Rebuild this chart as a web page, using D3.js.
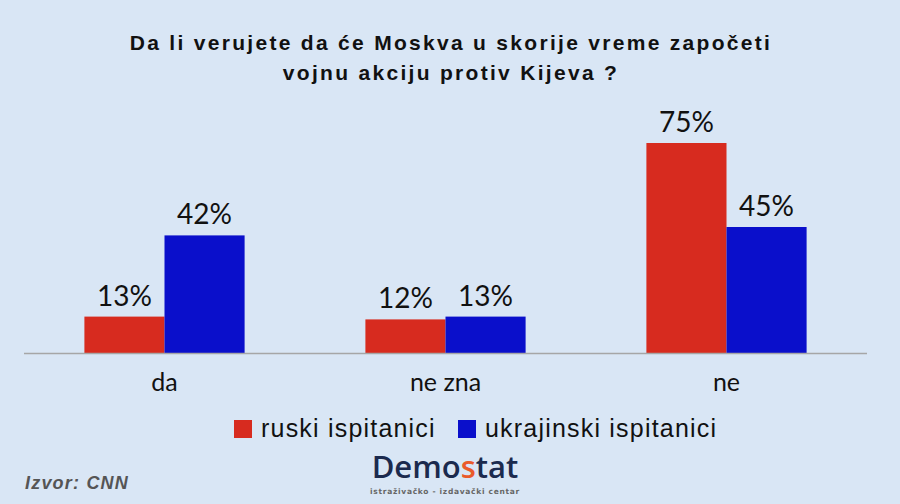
<!DOCTYPE html>
<html><head><meta charset="utf-8">
<script src="https://cdn.jsdelivr.net/npm/d3@7"></script>
<style>body{margin:0;background:#d9e6f5}svg{display:block}</style>
</head><body>
<script>
const categories = ["da", "ne zna", "ne"];
const seriesNames = ["ruski ispitanici", "ukrajinski ispitanici"];
const ruski = [13, 12, 75];
const ukrajinski = [42, 13, 45];
const titleLines = ["Da li verujete da će Moskva u skorije vreme započeti", "vojnu akciju protiv Kijeva ?"];
const colors = ["#d72b1f", "#0a0fcb"];

const W = 900, H = 504;
const svg = d3.select("body").append("svg").attr("width", W).attr("height", H);
svg.append("rect").attr("width", W).attr("height", H).attr("fill", "#d9e6f5");

const x0 = d3.scaleBand().domain(categories).range([24, 867]).paddingInner(0).paddingOuter(0);
const x1 = d3.scaleBand().domain([0, 1]).range([0, x0.bandwidth()]).paddingInner(0).paddingOuter(0.754);
const y = d3.scaleLinear().domain([0, 75]).range([353, 143]);

const series = [ruski, ukrajinski];
const g = svg.append("g");
categories.forEach((c, i) => {
  series.forEach((s, j) => {
    g.append("rect")
      .attr("x", x0(c) + x1(j))
      .attr("y", y(s[i]))
      .attr("width", x1.bandwidth())
      .attr("height", y(0) - y(s[i]))
      .attr("fill", colors[j]);
    g.append("text")
      .attr("x", x0(c) + x1(j) + x1.bandwidth() / 2)
      .attr("y", y(s[i]) - 11)
      .attr("text-anchor", "middle")
      .attr("font-family", "Lato, 'Open Sans', sans-serif")
      .attr("font-size", 28)
      .attr("fill", "#111")
      .text(s[i] + "%");
  });
});

svg.append("line").attr("x1", 24).attr("x2", 867).attr("y1", 353.5).attr("y2", 353.5)
  .attr("stroke", "#a6a6a6").attr("stroke-width", 1.5);

categories.forEach(c => {
  svg.append("text")
    .attr("x", x0(c) + x0.bandwidth() / 2)
    .attr("y", 391)
    .attr("text-anchor", "middle")
    .attr("font-family", "Lato, 'Open Sans', sans-serif")
    .attr("font-size", 25)
    .attr("fill", "#111")
    .text(c);
});

titleLines.forEach((t, i) => {
  svg.append("text")
    .attr("x", 451)
    .attr("y", 50 + i * 30)
    .attr("text-anchor", "middle")
    .attr("font-family", "'Liberation Sans', Arial, sans-serif")
    .attr("font-weight", "bold")
    .attr("font-size", 21)
    .attr("letter-spacing", 2.3)
    .attr("fill", "#111")
    .text(t);
});

// legend
const legX = [234, 458];
seriesNames.forEach((n, j) => {
  svg.append("rect").attr("x", legX[j]).attr("y", 420).attr("width", 18).attr("height", 18).attr("fill", colors[j]);
  svg.append("text").attr("x", legX[j] + 27).attr("y", 437)
    .attr("font-family", "'Liberation Sans', Arial, sans-serif")
    .attr("font-size", 25).attr("letter-spacing", 1.2).attr("fill", "#111").text(n);
});

svg.append("text").attr("x", 25).attr("y", 489)
  .attr("font-family", "'Liberation Sans', Arial, sans-serif")
  .attr("font-weight", "bold").attr("font-style", "italic")
  .attr("font-size", 18).attr("fill", "#555").attr("letter-spacing", 1.2).text("Izvor: CNN");

const logo = svg.append("text").attr("x", 445).attr("y", 478).attr("text-anchor", "middle")
  .attr("font-family", "'Open Sans', sans-serif").attr("font-weight", 600)
  .attr("font-size", 31).attr("fill", "#1b2a4e");
logo.append("tspan").text("Demo");
logo.append("tspan").attr("fill", "#ea5a2b").text("s");
logo.append("tspan").text("tat");
svg.append("text").attr("x", 445).attr("y", 494).attr("text-anchor", "middle")
  .attr("font-family", "'DejaVu Sans', sans-serif").attr("font-weight", "bold")
  .attr("font-size", 7.5).attr("fill", "#666").attr("letter-spacing", 0.7)
  .text("istraživačko - izdavački  centar");
</script>
</body></html>
